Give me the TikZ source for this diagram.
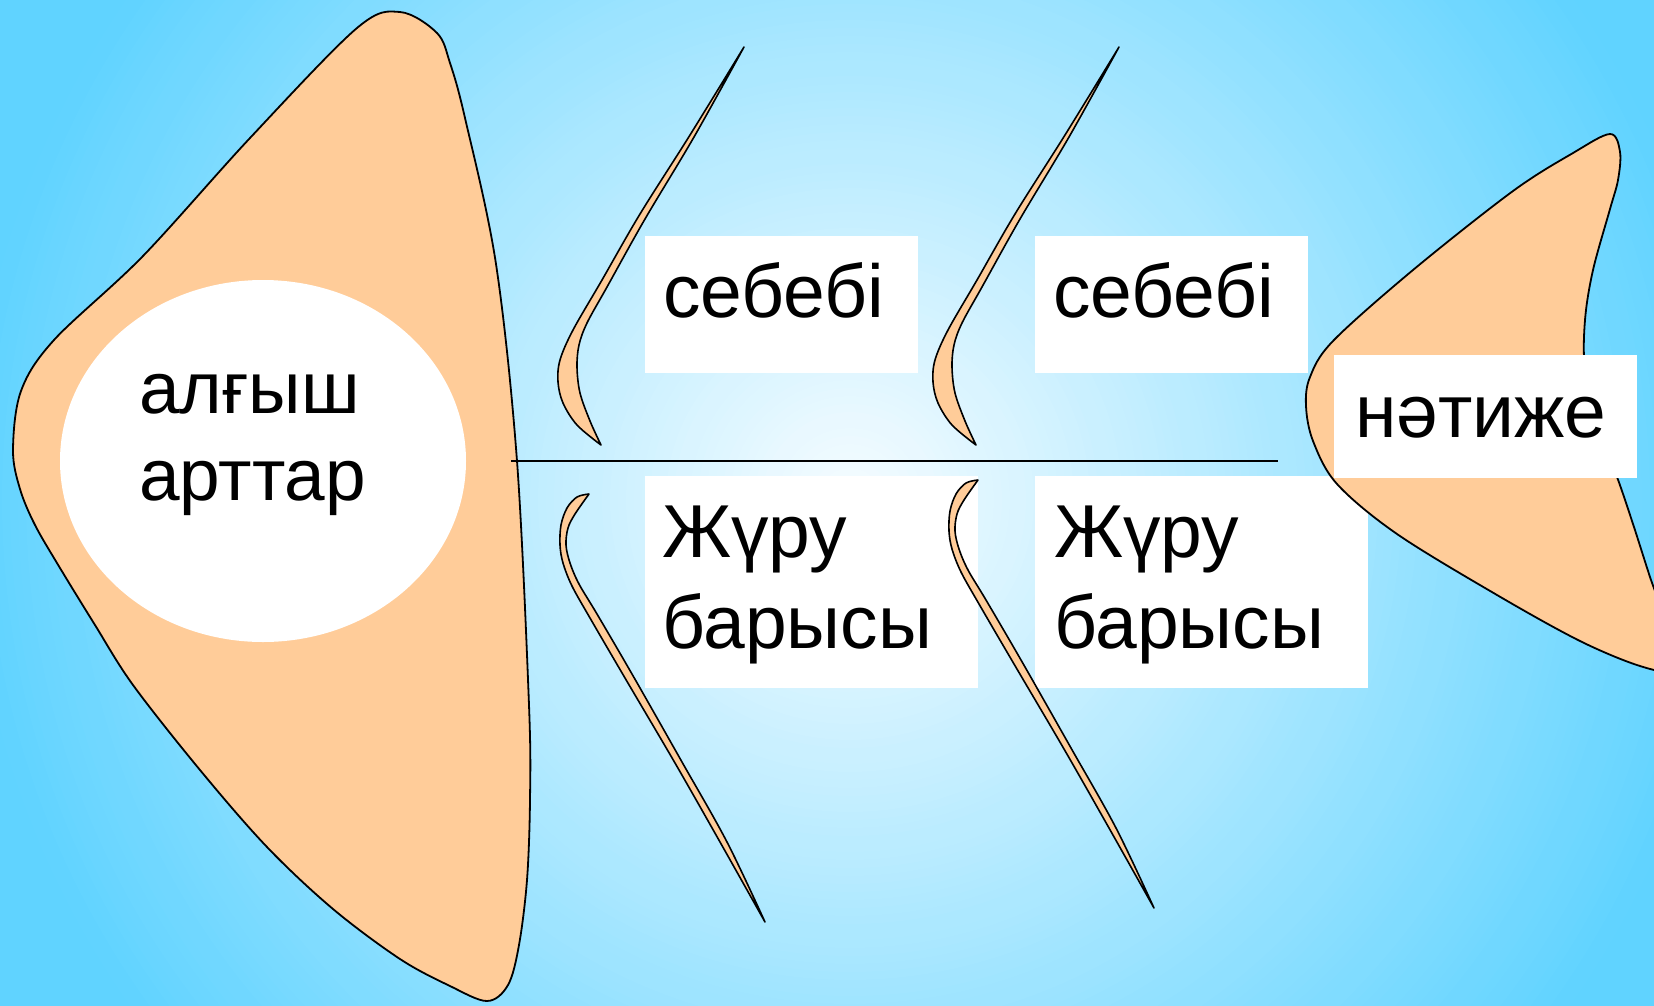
\documentclass[tikz,border=0pt]{standalone}
\usepackage{fontspec}
\setmainfont{Liberation Sans}
\usetikzlibrary{shapes.geometric}
\definecolor{bgA}{RGB}{246,252,255}
\definecolor{bgE}{RGB}{96,211,255}
\definecolor{peach}{RGB}{255,204,153}
\begin{document}
\begin{tikzpicture}[x=1pt,y=-1pt,
  fish/.style={fill=peach,draw=black,line width=1.8pt,line join=round},
  bone/.style={fill=peach,draw=black,line width=1.6pt,line join=round},
  box/.style={fill=white,draw=none,inner sep=0pt,outer sep=0pt},
  lbl/.style={inner sep=0pt,outer sep=0pt,font=\fontsize{75}{90}\selectfont,anchor=base west},
  hlbl/.style={inner sep=0pt,outer sep=0pt,font=\fontsize{73}{87}\selectfont,anchor=base west}]
\useasboundingbox (0,0) rectangle (1654,1005);
\clip (0,0) rectangle (1654,1005);
% background: radial gradient from the centre
\fill[bgE] (0,0) rectangle (1654,1005);
\foreach \r in {1000,992,...,8}{
  \pgfmathtruncatemacro\p{min(100,\r/8.8)}
  \fill[bgE!\p!bgA] (850,500) circle[radius=\r];
}
% head
\filldraw[fish] plot[smooth cycle, tension=0.55] coordinates {(400,12) (357,28) (250,138) (143,256) (54,340) (21,391) (13,450) (20,489) (35,525) (60,568) (95,625) (133,685) (200,770) (267,847) (333,909) (400,959) (450,986) (487,1001) (508,985) (519,945) (527,880) (530,800) (529,705) (517,461) (496,264) (465,118) (450,63) (437,33)};
\node[box, ellipse, minimum width=406, minimum height=362] (eye) at (263,461) {};
\node[hlbl] (h1) at (139,413) {алғыш};
\node[hlbl] (h2) at (139,500) {арттар};
% spine
\coordinate (spineL) at (511,461);
\coordinate (spineR) at (1278,461);
\draw[line width=1.5pt] (spineL) -- (spineR);
% boxes
\node[box, minimum width=273, minimum height=137] (b1) at (781.5,304.5) {};
\node[box, minimum width=273, minimum height=137] (b2) at (1171.5,304.5) {};
\node[box, minimum width=333, minimum height=212] (b3) at (811.5,582) {};
\node[box, minimum width=333, minimum height=212] (b4) at (1201.5,582) {};
\node[lbl] (t1) at (663,317) {себебі};
\node[lbl] (t2) at (1053,317) {себебі};
\node[lbl] (t3a) at (662,557) {Жүру};
\node[lbl] (t3b) at (662,648) {барысы};
\node[lbl] (t4a) at (1054,557) {Жүру};
\node[lbl] (t4b) at (1054,648) {барысы};
% upper bones
\foreach \dx in {0,375}{
\begin{scope}[xshift=\dx]
\filldraw[bone] plot[smooth, tension=0.55] coordinates {(744,47) (690,135) (640,214) (602,280) (573,330) (560,360) (558,382) (563,403) (577,425) (601,445)}
  -- plot[smooth, tension=0.55] coordinates {(601,445) (590,421) (580,393) (577,367) (579,345) (587,323) (607,287) (645,219) (694,137) (744,47)} -- cycle;
\end{scope}}
% lower bones
\foreach \dx/\dy in {0/0,389/14}{
\begin{scope}[xshift=\dx, yshift=\dy]
\filldraw[bone] plot[smooth, tension=0.55] coordinates {(589,494) (577,497) (567,508) (561,525) (560,545) (563,563) (572,586) (590,618) (625,678) (675,763) (720,842) (765,922)}
  -- plot[smooth, tension=0.55] coordinates {(765,922) (727,842) (682,762) (632,674) (597,614) (579,584) (570,563) (566,545) (568,528) (575,514) (589,494)} -- cycle;
\end{scope}}
% tail
\filldraw[fish] plot[smooth cycle, tension=0.55] coordinates {(1610,134) (1620,152) (1618,180) (1610,209) (1593,270) (1585,320) (1585,370) (1598,430) (1617,477) (1633,524) (1650,577) (1668,630) (1668,668) (1640,666) (1580,641) (1497,595) (1397,534) (1337,484) (1313,441) (1306,406) (1310,377) (1333,341) (1413,270) (1513,191) (1573,153)};
\node[box, minimum width=303, minimum height=123] (b5) at (1485.5,416.5) {};
\node[lbl] (t5) at (1355,437) {нәтиже};
\end{tikzpicture}
\end{document}
